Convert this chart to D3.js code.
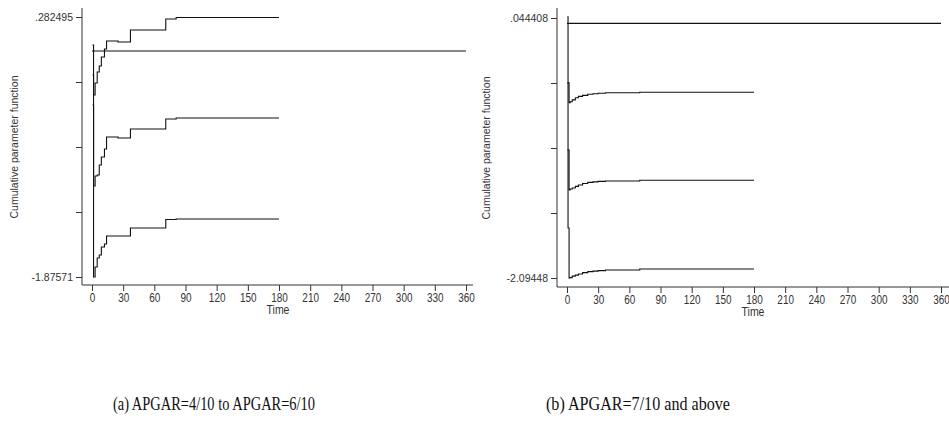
<!DOCTYPE html>
<html>
<head>
<script type="text/javascript" src="https://d3js.org/d3.v7.min.js"></script>
<style>
  body { margin: 0; background: #fff; }
  svg { display: block; }
</style>
</head>
<body>
<svg id="chart" width="949" height="431"></svg>
<script type="text/javascript">
// shared x axis ticks (days)
var xTicks = [0, 30, 60, 90, 120, 150, 180, 210, 240, 270, 300, 330, 360];

// panel (a): APGAR 4-6
var yTicksA = [0.282495, -0.257056, -0.796608, -1.33616, -1.87571];
var yLabelsA = [".282495", "", "", "", "-1.87571"];
var timeA  = [0.5, 1.5, 3, 5, 7, 9, 12, 14, 25, 37, 71, 81, 180];
var upperA = [0.050, -0.365, -0.265, -0.174, -0.124, -0.050, 0.017, 0.083, 0.075, 0.175, 0.266, 0.278, 0.278];
var estA   = [-0.199, -1.120, -1.037, -1.029, -0.946, -0.880, -0.813, -0.714, -0.722, -0.647, -0.564, -0.556, -0.556];
var lowerA = [-0.448, -1.876, -1.793, -1.718, -1.693, -1.627, -1.602, -1.535, -1.535, -1.469, -1.398, -1.394, -1.394];

// panel (b): APGAR 7+
var yTicksB = [0.044408, -0.490314, -1.025036, -1.559758, -2.09448];
var yLabelsB = [".044408", "", "", "", "-2.09448"];
var timeB  = [0.3, 1, 2, 3, 5, 8, 11, 15, 20, 25, 30, 37, 70, 180];
var upperB = [0.055, -0.489, -0.653, -0.645, -0.629, -0.612, -0.600, -0.592, -0.583, -0.579, -0.575, -0.571, -0.567, -0.567];
var estB   = [-0.489, -1.041, -1.370, -1.362, -1.354, -1.341, -1.329, -1.317, -1.308, -1.304, -1.300, -1.296, -1.290, -1.290];
var lowerB = [-1.041, -1.683, -2.095, -2.091, -2.079, -2.071, -2.062, -2.050, -2.042, -2.038, -2.034, -2.029, -2.021, -2.021];

var captions = ["(a) APGAR=4/10 to APGAR=6/10", "(b) APGAR=7/10 and above"];

var svg = d3.select("#chart");
var sans = "'Liberation Sans', Arial, sans-serif";

function drawPanel(p) {
    var g = svg.append("g");
    var x = d3.scaleLinear().domain([0, 360]).range(p.xRange);
    var y = d3.scaleLinear().domain([p.yTicks[4], p.yTicks[0]]).range(p.yRange);

    // reference line at zero
    g.append("line")
        .attr("x1", x(0)).attr("x2", x(360))
        .attr("y1", y(0)).attr("y2", y(0))
        .style("stroke", "#111").style("stroke-width", 1.1);

    // step curves: upper CI, estimate, lower CI
    var line = d3.line()
        .x(function(d) { return x(d[0]); })
        .y(function(d) { return y(d[1]); })
        .curve(d3.curveStepAfter);
    [p.upper, p.est, p.lower].forEach(function(vals) {
        var pts = p.time.map(function(t, i) { return [t, vals[i]]; });
        g.append("path")
            .attr("d", line(pts))
            .style("fill", "none")
            .style("stroke", "#111")
            .style("stroke-width", 1.1);
    });

    // axis lines (Stata style L shape)
    g.append("line")
        .attr("x1", p.axisX).attr("x2", p.axisX)
        .attr("y1", p.axisTop).attr("y2", p.axisBottom)
        .style("stroke", "#333").style("stroke-width", 1);
    g.append("line")
        .attr("x1", p.axisX).attr("x2", p.axisRight)
        .attr("y1", p.axisBottom).attr("y2", p.axisBottom)
        .style("stroke", "#333").style("stroke-width", 1);

    var ya = g.append("g")
        .attr("transform", "translate(" + p.axisX + ",0)")
        .call(d3.axisLeft(y).tickValues(p.yTicks)
            .tickFormat(function(d, i) { return p.yLabels[i]; })
            .tickSize(6).tickPadding(3));
    var xa = g.append("g")
        .attr("transform", "translate(0," + p.axisBottom + ")")
        .call(d3.axisBottom(x).tickValues(xTicks).tickSize(6).tickPadding(2));
    [ya, xa].forEach(function(a) {
        a.select(".domain").remove();
        a.selectAll(".tick line").style("stroke", "#333");
        a.selectAll("text").style("fill", "#333").style("font-family", sans);
    });
    ya.selectAll("text").style("font-size", "10.5px");
    // x labels drawn a bit taller and narrower, like the Stata export
    xa.selectAll("text")
        .attr("y", 0).attr("dy", null)
        .attr("transform", "translate(0,17) scale(0.95,1.3)")
        .style("font-size", "10.5px");

    // axis titles
    g.append("text")
        .attr("transform", "translate(" + p.titleX + "," + p.titleY + ") rotate(-90)")
        .attr("text-anchor", "middle")
        .style("font-family", sans).style("font-size", "10.5px").style("fill", "#333")
        .text("Cumulative parameter function");
    g.append("text")
        .attr("transform", "translate(" + p.timeX + "," + p.timeY + ") scale(1,1.2)")
        .attr("text-anchor", "middle")
        .style("font-family", sans).style("font-size", "10.5px").style("fill", "#333")
        .text("Time");

    // caption below
    svg.append("text")
        .attr("x", p.capX - p.capW / 2).attr("y", 410)
        .attr("textLength", p.capW)
        .attr("lengthAdjust", "spacingAndGlyphs")
        .style("font-family", "'Liberation Serif', 'Times New Roman', serif")
        .style("font-size", "18px").style("fill", "#111")
        .text(p.caption);
}

drawPanel({
    xRange: [92, 466], yRange: [277, 17],
    yTicks: yTicksA, yLabels: yLabelsA,
    time: timeA, upper: upperA, est: estA, lower: lowerA,
    axisX: 82, axisTop: 8, axisBottom: 285, axisRight: 473,
    titleX: 18, titleY: 147, timeX: 278, timeY: 314,
    capX: 214, capW: 202, caption: captions[0]
});
drawPanel({
    xRange: [567, 941], yRange: [278, 18],
    yTicks: yTicksB, yLabels: yLabelsB,
    time: timeB, upper: upperB, est: estB, lower: lowerB,
    axisX: 557, axisTop: 8, axisBottom: 287, axisRight: 949,
    titleX: 490, titleY: 148, timeX: 753, timeY: 316,
    capX: 638, capW: 184, caption: captions[1]
});
</script>
</body>
</html>
